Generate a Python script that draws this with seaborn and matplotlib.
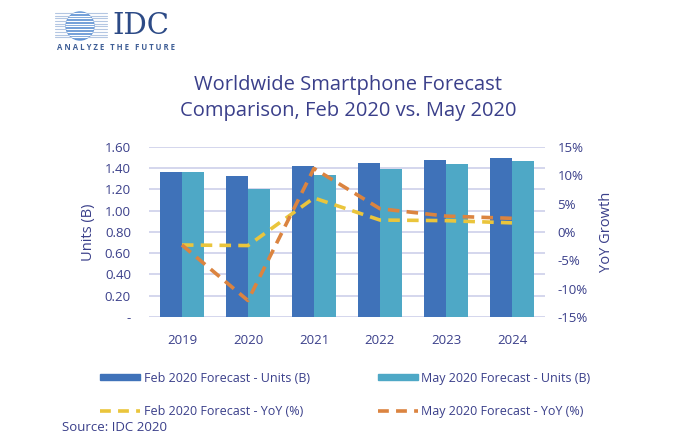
import numpy as np
import pandas as pd
import seaborn as sns
import matplotlib.pyplot as plt
from matplotlib.patches import Patch, Circle
from matplotlib.lines import Line2D
from matplotlib.ticker import FuncFormatter

# data
years = ["2019", "2020", "2021", "2022", "2023", "2024"]
feb_units = [1.36, 1.33, 1.42, 1.45, 1.48, 1.50]
may_units = [1.36, 1.20, 1.34, 1.39, 1.44, 1.47]
feb_yoy = [-2.3, -2.4, 6.0, 2.1, 2.0, 1.6]
may_yoy = [-2.3, -12.1, 11.2, 4.1, 2.8, 2.4]

lbl_feb_u = "Feb 2020 Forecast - Units (B)"
lbl_may_u = "May 2020 Forecast - Units (B)"
lbl_feb_y = "Feb 2020 Forecast - YoY (%)"
lbl_may_y = "May 2020 Forecast - YoY (%)"

c_feb = "#3F72B9"
c_may = "#4EA8C6"
c_feb_l = "#EAC53C"
c_may_l = "#DB8440"
txt = "#3A3F8A"
grid_c = "#CDD0EA"

sns.set_style("white")
plt.rcParams["font.family"] = ["Open Sans", "DejaVu Sans"]

units = pd.DataFrame({
    "year": years * 2,
    "units": feb_units + may_units,
    "series": [lbl_feb_u] * 6 + [lbl_may_u] * 6,
})
yoy = pd.DataFrame({
    "pos": list(range(len(years))) * 2,
    "yoy": feb_yoy + may_yoy,
    "series": [lbl_feb_y] * 6 + [lbl_may_y] * 6,
})

fig = plt.figure(figsize=(6.96, 4.36), dpi=100)
ax = fig.add_axes([0.214, 0.273, 0.569, 0.390])

sns.barplot(data=units, x="year", y="units", hue="series", ax=ax,
            palette=[c_feb, c_may], width=0.67, saturation=1, legend=False,
            linewidth=0, edgecolor="none")
ax.set_ylim(0, 1.6)
ax.set_yticks(np.arange(0, 1.61, 0.2))
ax.yaxis.set_major_formatter(FuncFormatter(lambda v, p: "-" if abs(v) < 1e-9 else f"{v:.2f}"))
ax.set_xlim(-0.5, 5.5)
ax.grid(axis="y", color=grid_c, lw=1.2)
ax.set_axisbelow(True)
ax.set_xlabel("")
ax.set_ylabel("Units (B)", color=txt, fontsize=10.5, labelpad=6)
ax.tick_params(colors=txt, labelsize=9.5, length=0, pad=13)
ax.tick_params(axis="x", pad=12)
for s in ax.spines.values():
    s.set_visible(False)

ax2 = ax.twinx()
sns.lineplot(data=yoy, x="pos", y="yoy", hue="series", ax=ax2,
             palette=[c_feb_l, c_may_l], lw=2.6, legend=False)
for ln in ax2.get_lines():
    ln.set_dashes((3.2, 2))
ax2.set_ylim(-15, 15)
ax2.set_yticks(np.arange(-15, 16, 5))
ax2.yaxis.set_major_formatter(FuncFormatter(lambda v, p: f"{v:.0f}%"))
ax2.set_xlim(-0.5, 5.5)
ax2.set_xlabel("")
ax2.set_ylabel("YoY Growth", color=txt, fontsize=10.5, labelpad=8)
ax2.tick_params(colors=txt, labelsize=9.5, length=0, pad=9)
for s in ax2.spines.values():
    s.set_visible(False)

fig.text(0.5, 0.775, "Worldwide Smartphone Forecast\nComparison, Feb 2020 vs. May 2020",
         ha="center", va="center", fontsize=14.5, color=txt, linespacing=1.35)

handles = [
    Patch(color=c_feb), Line2D([], [], color=c_feb_l, lw=2.6, dashes=(3, 2)),
    Patch(color=c_may), Line2D([], [], color=c_may_l, lw=2.6, dashes=(3, 2)),
]
labels = [lbl_feb_u, lbl_feb_y, lbl_may_u, lbl_may_y]
fig.legend(handles, labels, ncol=2, loc="center left", bbox_to_anchor=(0.128, 0.095),
           frameon=False, handlelength=3.2, handleheight=0.45, handletextpad=0.3,
           columnspacing=5.4, labelspacing=1.6, fontsize=9, labelcolor=txt)

fig.text(0.089, 0.005, "Source: IDC 2020", fontsize=9.5, color=txt, va="bottom")

# IDC logo
lg = fig.add_axes([0, 0, 1, 1], zorder=-1)
lg.set_xlim(0, 696)
lg.set_ylim(436, 0)
lg.axis("off")
for yy in np.arange(13, 40, 2.7):
    lg.plot([55, 107], [yy, yy], color="#B3C6E2", lw=0.8)
circ = Circle((80, 26), 14, color="#5F92D4")
lg.add_patch(circ)
for yy in np.arange(13, 40, 2.7):
    l, = lg.plot([60, 100], [yy, yy], color="white", lw=0.9)
    l.set_clip_path(circ)
lg.text(112, 26, "IDC", fontsize=21, family="DejaVu Serif", color="#2C4A86", va="center")
lg.text(57, 48, "A N A L Y Z E   T H E   F U T U R E", fontsize=5.6, color="#3F5E96",
        va="center", fontweight="bold")

fig.savefig("out.png", dpi=100)
